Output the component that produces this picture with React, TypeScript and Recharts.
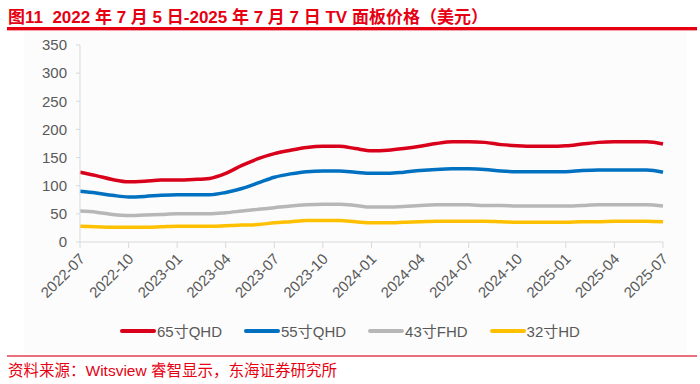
import React from "react";
import { LineChart, Line, XAxis, YAxis } from "recharts";

const months = [
  "2022-07", "2022-08", "2022-09", "2022-10", "2022-11", "2022-12",
  "2023-01", "2023-02", "2023-03", "2023-04", "2023-05", "2023-06",
  "2023-07", "2023-08", "2023-09", "2023-10", "2023-11", "2023-12",
  "2024-01", "2024-02", "2024-03", "2024-04", "2024-05", "2024-06",
  "2024-07", "2024-08", "2024-09", "2024-10", "2024-11", "2024-12",
  "2025-01", "2025-02", "2025-03", "2025-04", "2025-05", "2025-06",
  "2025-07",
];
const tickLabels = [
  "2022-07", "2022-10", "2023-01", "2023-04", "2023-07", "2023-10", "2024-01",
  "2024-04", "2024-07", "2024-10", "2025-01", "2025-04", "2025-07",
];
const yTicks = [0, 50, 100, 150, 200, 250, 300, 350];

const tv65 = [
  124, 118, 111, 107, 108, 110, 110, 111, 113, 122, 136, 148,
  157, 163, 168, 170, 170, 166, 162, 163, 166, 170, 175, 178,
  178, 177, 173, 171, 170, 170, 171, 174, 177, 178, 178, 178,
  174,
];
const tv55 = [
  90, 87, 83, 80, 81, 83, 84, 84, 84, 88, 95, 105,
  115, 121, 125, 126, 126, 124, 122, 122, 124, 127, 129, 130,
  130, 129, 126, 125, 125, 125, 125, 127, 128, 128, 128, 128,
  124,
];
const tv43 = [
  55, 53, 49, 47, 48, 49, 50, 50, 50, 52, 55, 58,
  61, 64, 66, 67, 67, 65, 62, 62, 63, 65, 66, 66,
  66, 65, 65, 64, 64, 64, 64, 65, 66, 66, 66, 66,
  64,
];
const tv32 = [
  28, 27, 26, 26, 26, 27, 28, 28, 28, 29, 30, 31,
  34, 36, 38, 38, 38, 36, 34, 34, 35, 36, 37, 37,
  37, 37, 36, 35, 35, 35, 35, 36, 36, 37, 37, 37,
  36,
];

const seriesNames = ["65寸QHD", "55寸QHD", "43寸FHD", "32寸HD"];
const colors = ["#D9001B", "#0070C0", "#B7B7B7", "#FFC000"];

const chartData = months.map((m, i) => ({
  month: m,
  s65: tv65[i],
  s55: tv55[i],
  s43: tv43[i],
  s32: tv32[i],
}));

const font = "Arial, 'Liberation Sans', 'Noto Sans CJK SC', sans-serif";
const red = "#E60012";

// rotated date labels, hanging down-left from each tick
const XTick: React.FC<any> = ({ x, y, payload }) => (
  <text
    transform={`translate(${x + 2},${y + 6}) rotate(-45)`}
    textAnchor="end"
    dominantBaseline="central"
    fontSize={15}
    fill="#595959"
    fontFamily={font}
  >
    {payload.value}
  </text>
);

export default function App() {
  const keys = ["s65", "s55", "s43", "s32"];
  return (
    <div style={{ position: "absolute", left: 0, top: 0, width: 700, height: 384, background: "#fff", fontFamily: font }}>
      <div style={{ position: "absolute", left: 24, top: 31, width: 663, height: 322, background: "#FCFCFC" }} />
      <div style={{ position: "absolute", left: 8, top: 3, fontSize: 17, fontWeight: "bold", color: red, whiteSpace: "nowrap" }}>
        图11&nbsp;&nbsp;2022 年 7 月 5 日-2025 年 7 月 7 日 TV 面板价格（美元）
      </div>
      <div style={{ position: "absolute", left: 7, top: 27, width: 690, height: 2.5, background: red }} />
      <div style={{ position: "absolute", left: 7, top: 29.5, width: 690, height: 1, background: "#F4A0A6" }} />

      <div style={{ position: "absolute", left: 0, top: 0 }}>
        <LineChart width={700} height={317} data={chartData} margin={{ top: 45, right: 37, left: 0, bottom: 0 }}>
          <XAxis
            dataKey="month"
            ticks={tickLabels}
            interval={0}
            height={75}
            tick={<XTick />}
            tickSize={6}
            axisLine={{ stroke: "#D9D9D9" }}
            tickLine={{ stroke: "#D9D9D9" }}
          />
          <YAxis
            domain={[0, 350]}
            ticks={yTicks}
            width={80}
            tickSize={4}
            tickMargin={9}
            tick={{ fontSize: 15, fill: "#595959", fontFamily: font }}
            axisLine={{ stroke: "#D9D9D9" }}
            tickLine={{ stroke: "#D9D9D9" }}
          />
          {keys.map((k, i) => (
            <Line
              key={k}
              type="monotone"
              dataKey={k}
              name={seriesNames[i]}
              stroke={colors[i]}
              strokeWidth={3.5}
              dot={false}
              isAnimationActive={false}
            />
          ))}
        </LineChart>
      </div>

      <div style={{ position: "absolute", left: 120, top: 320, display: "flex", alignItems: "center", fontSize: 15, color: "#595959", whiteSpace: "nowrap" }}>
        {seriesNames.map((n, i) => (
          <div key={n} style={{ display: "flex", alignItems: "center", marginRight: i < 3 ? 22 : 0 }}>
            <div style={{ width: 36, height: 4, borderRadius: 2, background: colors[i], marginRight: 1 }} />
            <span>{n}</span>
          </div>
        ))}
      </div>

      <div style={{ position: "absolute", left: 7, top: 355, width: 690, height: 1.5, background: "#E8707A" }} />
      <div style={{ position: "absolute", left: 8, top: 358, fontSize: 15.5, color: red, whiteSpace: "nowrap" }}>
        资料来源：Witsview 睿智显示，东海证券研究所
      </div>
    </div>
  );
}
